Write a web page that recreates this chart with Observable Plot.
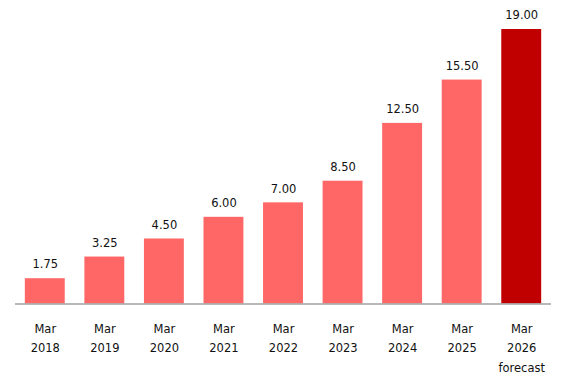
<!DOCTYPE html>
<html>
<head>
<meta charset="utf-8">
<script src="https://cdn.jsdelivr.net/npm/d3@7"></script>
<script src="https://cdn.jsdelivr.net/npm/@observablehq/plot@0.6"></script>
<style>
  html, body { margin: 0; padding: 0; background: #fff; }
</style>
</head>
<body>
<div id="chart"></div>
<script>
const categories = ["Mar\n2018", "Mar\n2019", "Mar\n2020", "Mar\n2021", "Mar\n2022", "Mar\n2023", "Mar\n2024", "Mar\n2025", "Mar\n2026\nforecast"];
const values = [1.75, 3.25, 4.5, 6.0, 7.0, 8.5, 12.5, 15.5, 19.0];
const isForecast = [false, false, false, false, false, false, false, false, true];

const data = categories.map((c, i) => ({cat: c, value: values[i], forecast: isForecast[i]}));

const chart = Plot.plot({
  width: 567,
  height: 377,
  marginTop: 29,
  marginBottom: 73.5,
  marginLeft: 15,
  marginRight: 16,
  style: {fontFamily: "'DejaVu Sans', Verdana, sans-serif", fontSize: "11.5px", color: "#111", background: "#fff"},
  x: {domain: categories, paddingInner: 0.33, paddingOuter: 0.165, round: false, label: null},
  y: {domain: [0, 19], label: null, axis: null},
  color: {domain: [false, true], range: ["#FF6666", "#C00000"]},
  marks: [
    Plot.barY(data, {x: "cat", y: "value", fill: d => d.forecast}),
    Plot.ruleY([0], {stroke: "#a0a0a0", strokeWidth: 1.5}),
    Plot.text(data, {x: "cat", y: "value", text: d => d.value.toFixed(2), lineAnchor: "middle", dy: -14, fill: "#111"}),
    Plot.axisX({tickSize: 0, tickPadding: 15, lineHeight: 1.7, fill: "#111"})
  ]
});
document.getElementById("chart").appendChild(chart);
</script>
</body>
</html>
